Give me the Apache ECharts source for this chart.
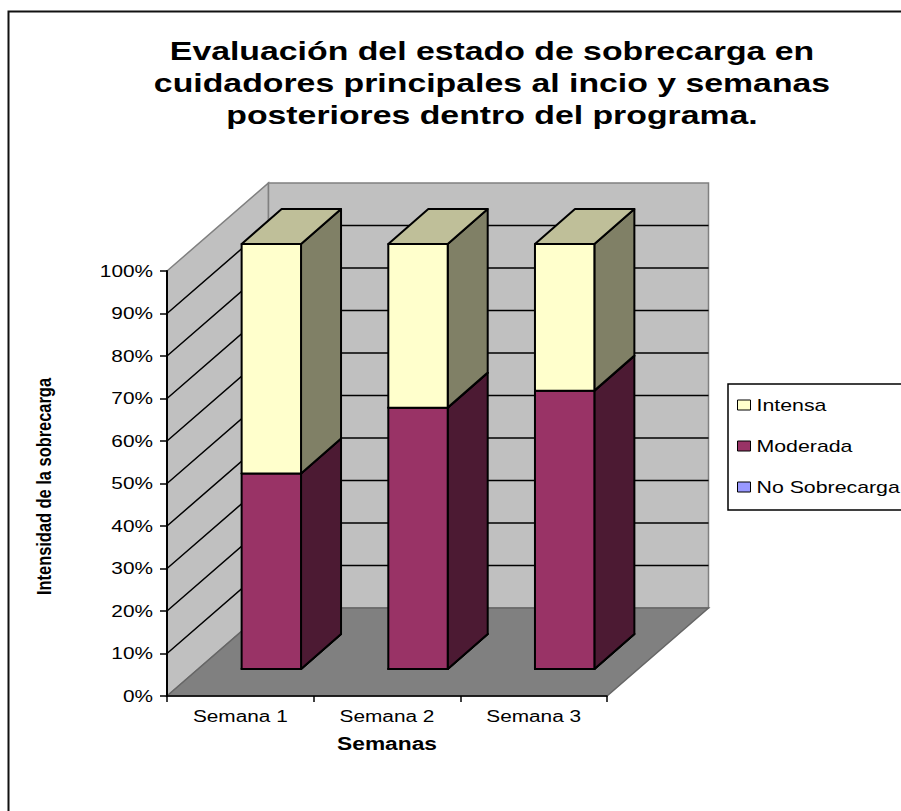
<!DOCTYPE html>
<html>
<head>
<meta charset="utf-8">
<style>
html, body { margin: 0; padding: 0; background: #fff; }
#main { width: 901px; height: 811px; }
</style>
<script src="https://cdn.jsdelivr.net/npm/echarts@6/dist/echarts.min.js"></script>
</head>
<body>
<div id="main"></div>
<script>
var categories = ['Semana 1', 'Semana 2', 'Semana 3'];
var noSobrecarga = [0, 0, 0];
var moderada = [46, 61.5, 65.5];
var intensa = [54, 38.5, 34.5];
var gridTicks = [10, 20, 30, 40, 50, 60, 70, 80, 90];

var titleText = 'Evaluación del estado de sobrecarga en\ncuidadores principales al incio y semanas\nposteriores dentro del programa.';
var yAxisName = 'Intensidad de la sobrecarga';

var font = "'Liberation Sans', Arial, sans-serif";

// 3D look: wall depth, bar position inside it, bar depth (px)
var WALL_DX = 101.5, WALL_DY = -88;
var BAR_DX = 31, BAR_DY = -27;
var SIDE_DX = 40, SIDE_DY = -35;
var BAR_WIDTH = 0.405;

var myChart = echarts.init(document.getElementById('main'), null, { renderer: 'svg' });

function renderWalls(params, api) {
    var rect = params.coordSys;
    var x0 = rect.x, x1 = rect.x + rect.width;
    var top = rect.y, bottom = rect.y + rect.height;
    var edge = { stroke: '#808080', lineWidth: 1.5 };
    var kids = [{
        type: 'polygon',
        shape: { points: [[x0, top], [x0 + WALL_DX, top + WALL_DY], [x0 + WALL_DX, bottom + WALL_DY], [x0, bottom]] },
        style: Object.assign({ fill: '#c0c0c0' }, edge)
    }, {
        type: 'polygon',
        shape: { points: [[x0 + WALL_DX, top + WALL_DY], [x1 + WALL_DX, top + WALL_DY], [x1 + WALL_DX, bottom + WALL_DY], [x0 + WALL_DX, bottom + WALL_DY]] },
        style: Object.assign({ fill: '#c0c0c0' }, edge)
    }, {
        type: 'polygon',
        shape: { points: [[x0, bottom], [x0 + WALL_DX, bottom + WALL_DY], [x1 + WALL_DX, bottom + WALL_DY], [x1, bottom]] },
        style: { fill: '#808080', stroke: '#666666', lineWidth: 1.5 }
    }];
    gridTicks.forEach(function (t) {
        var y = api.coord([0, t])[1];
        kids.push({
            type: 'polyline',
            shape: { points: [[x0, y], [x0 + WALL_DX, y + WALL_DY], [x1 + WALL_DX, y + WALL_DY]] },
            style: { fill: 'none', stroke: '#000', lineWidth: 1.5 }
        });
    });
    return { type: 'group', children: kids };
}

function barRenderer(front, top, side) {
    return function (params, api) {
        var low = api.coord([api.value(0), api.value(1)]);
        var high = api.coord([api.value(0), api.value(2)]);
        var w = api.size([1, 0])[0] * BAR_WIDTH;
        var xl = low[0] + BAR_DX - w / 2;
        var xr = xl + w;
        var yl = low[1] + BAR_DY;
        var yh = high[1] + BAR_DY;
        var line = { stroke: '#000', lineWidth: 2, lineJoin: 'round' };
        return {
            type: 'group',
            children: [{
                type: 'polygon',
                shape: { points: [[xr, yl], [xr + SIDE_DX, yl + SIDE_DY], [xr + SIDE_DX, yh + SIDE_DY], [xr, yh]] },
                style: Object.assign({ fill: side }, line)
            }, {
                type: 'polygon',
                shape: { points: [[xl, yh], [xl + SIDE_DX, yh + SIDE_DY], [xr + SIDE_DX, yh + SIDE_DY], [xr, yh]] },
                style: Object.assign({ fill: top }, line)
            }, {
                type: 'polygon',
                shape: { points: [[xl, yl], [xr, yl], [xr, yh], [xl, yh]] },
                style: Object.assign({ fill: front }, line)
            }]
        };
    };
}

// stack the three series by hand: [category, from, to]
var rowsNo = [], rowsMod = [], rowsInt = [];
categories.forEach(function (c, i) {
    var a = noSobrecarga[i], b = a + moderada[i], d = b + intensa[i];
    rowsNo.push([i, 0, a]);
    rowsMod.push([i, a, b]);
    rowsInt.push([i, b, d]);
});

var option = {
    animation: false,
    backgroundColor: '#fff',
    textStyle: { fontFamily: font },
    title: {
        text: titleText,
        left: 487,
        top: 30,
        textAlign: 'center',
        textStyle: { fontFamily: font, fontSize: 26, fontWeight: 'bold', color: '#000', lineHeight: 32, align: 'center' }
    },
    legend: {
        left: 728,
        top: 384,
        orient: 'vertical',
        padding: [13, 80, 15, 9],
        itemWidth: 13,
        itemHeight: 10,
        itemGap: 25,
        backgroundColor: '#fff',
        borderColor: '#000',
        borderWidth: 1.5,
        textStyle: { fontFamily: font, fontSize: 16.4, color: '#000', padding: [0, 0, 0, 1] },
        data: [
            { name: 'Intensa', icon: 'rect', itemStyle: { color: '#ffffcc', borderColor: '#000', borderWidth: 1 } },
            { name: 'Moderada', icon: 'rect', itemStyle: { color: '#993366', borderColor: '#000', borderWidth: 1 } },
            { name: 'No Sobrecarga', icon: 'rect', itemStyle: { color: '#9999ff', borderColor: '#000', borderWidth: 1 } }
        ]
    },
    grid: { left: 167, top: 271, width: 440, height: 425 },
    xAxis: {
        type: 'category',
        data: categories,
        z: 5,
        name: 'Semanas',
        nameLocation: 'middle',
        nameGap: 39,
        nameTextStyle: { fontFamily: font, fontSize: 17.5, fontWeight: 'bold', color: '#000' },
        axisLine: { lineStyle: { color: '#000', width: 1.5 } },
        axisTick: { show: true, length: 6, lineStyle: { color: '#000', width: 1.5 } },
        axisLabel: { fontFamily: font, fontSize: 16, color: '#000', margin: 12 }
    },
    yAxis: {
        type: 'value',
        min: 0,
        max: 100,
        interval: 10,
        z: 5,
        name: yAxisName,
        nameLocation: 'middle',
        nameRotate: 90,
        nameGap: 113,
        nameTextStyle: { fontFamily: font, fontSize: 20, fontWeight: 'bold', color: '#000', padding: [0, 6, 0, 0] },
        splitLine: { show: false },
        axisLine: { show: true, lineStyle: { color: '#000', width: 2 } },
        axisTick: { show: true, length: 7, lineStyle: { color: '#000', width: 1.5 } },
        axisLabel: { formatter: '{value}%', fontFamily: font, fontSize: 16, color: '#000', margin: 14 }
    },
    graphic: [{
        type: 'polyline',
        z: 0,
        silent: true,
        shape: { points: [[8.5, 811], [8.5, 11.5], [901, 11.5]] },
        style: { fill: 'none', stroke: '#111', lineWidth: 2 }
    }],
    series: [{
        type: 'custom',
        name: 'walls',
        z: 1,
        silent: true,
        data: [[0]],
        renderItem: renderWalls
    }, {
        type: 'custom',
        name: 'No Sobrecarga',
        z: 2,
        itemStyle: { color: '#9999ff' },
        data: rowsNo,
        encode: { x: 0, y: [1, 2] },
        renderItem: barRenderer('#9999ff', '#7a7acc', '#4d4d80')
    }, {
        type: 'custom',
        name: 'Moderada',
        z: 3,
        itemStyle: { color: '#993366' },
        data: rowsMod,
        encode: { x: 0, y: [1, 2] },
        renderItem: barRenderer('#993366', '#7a2952', '#4c1a33')
    }, {
        type: 'custom',
        name: 'Intensa',
        z: 4,
        itemStyle: { color: '#ffffcc' },
        data: rowsInt,
        encode: { x: 0, y: [1, 2] },
        renderItem: barRenderer('#ffffcc', '#bfbf99', '#808066')
    }]
};

// the reference text is stretched sideways (and the rotated name squeezed), so do the same to the svg text
function stretchText() {
    document.querySelectorAll('#main text').forEach(function (t) {
        if (t.getAttribute('textLength')) return;
        var len = t.getComputedTextLength();
        var target = t.textContent === yAxisName ? 217 : len * 1.3;
        t.setAttribute('lengthAdjust', 'spacingAndGlyphs');
        t.setAttribute('textLength', target);
    });
}

myChart.on('finished', stretchText);
myChart.setOption(option);
stretchText();
</script>
</body>
</html>
